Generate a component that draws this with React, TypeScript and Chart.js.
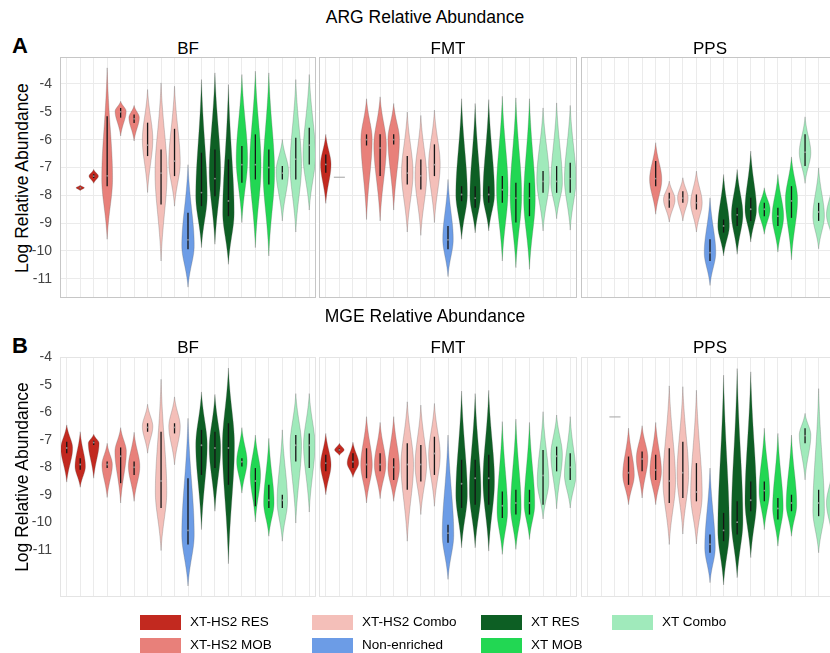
import React, { useEffect, useRef } from 'react';
import { Chart, registerables } from 'chart.js';
Chart.register(...registerables);

// ---------- DATA ----------
const CATEGORIES = [
  'XT-HS2 RES 1', 'XT-HS2 RES 2', 'XT-HS2 RES 3',
  'XT-HS2 MOB 1', 'XT-HS2 MOB 2', 'XT-HS2 MOB 3',
  'XT-HS2 Combo 1', 'XT-HS2 Combo 2', 'XT-HS2 Combo 3',
  'Non-enriched',
  'XT RES 1', 'XT RES 2', 'XT RES 3',
  'XT MOB 1', 'XT MOB 2', 'XT MOB 3',
  'XT Combo 1', 'XT Combo 2', 'XT Combo 3',
];
const GROUPS = ['XT-HS2 RES', 'XT-HS2 MOB', 'XT-HS2 Combo', 'Non-enriched', 'XT RES', 'XT MOB', 'XT Combo'];
const GROUP_COLORS = ['#C2291F', '#E8807A', '#F4BFB9', '#6C9CE6', '#0D5F24', '#22D753', '#A0EABB'];
const GROUP_OF_CATEGORY = [0, 0, 0, 1, 1, 1, 2, 2, 2, 3, 4, 4, 4, 5, 5, 5, 6, 6, 6];
const Y_TICKS = [-11, -10, -9, -8, -7, -6, -5, -4];
const PANELS = ['BF', 'FMT', 'PPS'];

// each violin: [min, q1, median, q3, max, densest value, relative peak density]
type V = number[] | null;

const ARG_BF: V[] = [
  null,
  [-7.83, -7.76, -7.73, -7.70, -7.64, -7.73, 0.65],
  [-7.57, -7.38, -7.31, -7.24, -7.07, -7.31, 0.74],
  [-9.58, -7.67, -7.3, -5.16, -3.42, -7.4, 0.85],
  [-5.87, -5.21, -5.0, -4.86, -4.62, -4.98, 0.87],
  [-6.05, -5.4, -5.25, -5.1, -4.77, -5.21, 0.82],
  [-7.9, -6.59, -6.2, -5.39, -4.2, -6.0, 0.82],
  [-10.36, -8.33, -7.2, -6.35, -3.96, -7.19, 0.95],
  [-8.39, -7.31, -6.77, -5.61, -4.08, -6.83, 0.9],
  [-11.3, -9.94, -9.6, -8.63, -6.9, -9.8, 0.98],
  [-9.88, -8.39, -7.9, -6.47, -3.84, -8.03, 0.9],
  [-9.76, -8.03, -7.4, -6.35, -3.6, -7.19, 0.9],
  [-10.48, -8.75, -8.2, -6.71, -4.02, -8.63, 0.9],
  [-8.98, -7.55, -6.9, -6.23, -3.66, -6.71, 0.9],
  [-9.88, -7.43, -6.9, -5.81, -3.54, -6.95, 0.9],
  [-10.18, -7.61, -7.0, -6.35, -3.6, -7.19, 0.9],
  [-8.92, -7.43, -7.2, -6.95, -5.99, -7.13, 0.98],
  [-9.32, -7.43, -6.7, -5.93, -3.84, -6.95, 0.9],
  [-8.53, -6.89, -6.2, -5.57, -3.66, -6.59, 0.98],
];
const ARG_FMT: V[] = [
  [-8.29, -7.19, -6.89, -6.53, -5.81, -6.89, 0.82],
  [-7.35, -7.35, -7.35, -7.35, -7.35, -7.35, 0.87],
  null,
  [-8.87, -6.21, -6.0, -5.81, -4.53, -5.99, 0.88],
  [-8.92, -7.31, -6.3, -5.81, -4.46, -6.2, 0.98],
  [-8.53, -6.17, -6.0, -5.81, -4.7, -5.99, 0.9],
  [-9.32, -7.61, -7.2, -6.59, -5.01, -7.19, 0.9],
  [-9.44, -7.79, -7.3, -6.71, -5.13, -7.31, 0.9],
  [-8.98, -7.31, -6.9, -6.17, -4.94, -6.89, 0.9],
  [-10.92, -9.94, -9.6, -9.1, -7.43, -9.58, 0.82],
  [-9.58, -8.21, -7.97, -7.67, -4.53, -7.97, 0.9],
  [-9.35, -8.45, -8.1, -7.67, -4.7, -8.03, 0.82],
  [-9.28, -8.27, -7.97, -7.67, -4.56, -7.97, 0.9],
  [-10.36, -8.27, -7.8, -7.31, -4.44, -7.79, 0.9],
  [-10.6, -8.98, -8.1, -7.55, -4.5, -8.03, 0.9],
  [-10.66, -8.75, -8.1, -7.55, -4.53, -8.15, 0.9],
  [-9.28, -7.91, -7.5, -7.13, -4.86, -7.43, 0.98],
  [-8.84, -7.91, -7.5, -6.95, -4.68, -7.55, 0.9],
  [-9.25, -7.91, -7.4, -6.83, -4.77, -7.43, 0.9],
];
const ARG_PPS: V[] = [
  null, null, null, null, null,
  [-8.68, -7.67, -7.4, -6.77, -6.11, -7.43, 0.95],
  [-8.96, -8.45, -8.15, -7.91, -7.49, -8.15, 0.9],
  [-8.92, -8.27, -8.1, -7.85, -7.37, -8.09, 0.82],
  [-9.32, -8.51, -8.27, -7.97, -7.13, -8.27, 0.9],
  [-11.24, -10.36, -10.06, -9.58, -8.09, -10.06, 0.9],
  [-10.18, -9.34, -9.1, -8.87, -7.25, -9.1, 0.9],
  [-10.12, -9.1, -8.7, -8.45, -7.07, -8.69, 0.9],
  [-9.68, -8.92, -8.5, -8.09, -6.41, -8.51, 0.9],
  [-9.4, -8.75, -8.5, -8.27, -7.73, -8.51, 0.9],
  [-10.04, -9.1, -8.75, -8.45, -7.25, -8.75, 0.9],
  [-10.32, -8.81, -8.2, -7.67, -6.62, -8.15, 0.95],
  [-7.57, -6.95, -6.45, -5.81, -5.18, -6.47, 0.9],
  [-9.92, -8.92, -8.6, -8.27, -7.01, -8.75, 0.9],
  [-9.6, -9.0, -8.7, -8.3, -7.6, -8.7, 0.9],
];
const MGE_BF: V[] = [
  [-8.54, -7.49, -7.3, -7.07, -6.46, -7.31, 0.93],
  [-8.73, -8.09, -7.9, -7.67, -6.71, -7.97, 0.82],
  [-8.4, -7.19, -7.1, -7.04, -6.8, -7.13, 0.85],
  [-9.1, -8.03, -7.9, -7.79, -7.13, -7.91, 0.82],
  [-9.3, -8.58, -7.6, -7.28, -6.56, -7.43, 0.9],
  [-9.24, -8.28, -8.0, -7.79, -6.73, -7.97, 0.9],
  [-7.49, -6.71, -6.55, -6.4, -5.71, -6.52, 0.82],
  [-11.03, -9.48, -8.5, -6.71, -4.8, -8.9, 0.9],
  [-7.91, -6.77, -6.55, -6.4, -5.44, -6.52, 0.9],
  [-12.32, -10.81, -10.3, -8.4, -6.22, -10.45, 0.98],
  [-10.27, -8.28, -7.2, -6.64, -5.26, -7.19, 0.9],
  [-9.6, -8.03, -7.3, -6.71, -5.35, -7.31, 0.9],
  [-11.51, -8.64, -7.3, -6.4, -4.39, -7.19, 0.95],
  [-8.94, -7.97, -7.8, -7.67, -6.56, -7.79, 0.82],
  [-9.99, -9.42, -8.5, -8.03, -6.83, -8.28, 0.82],
  [-10.51, -9.48, -9.2, -8.64, -6.95, -9.3, 0.82],
  [-10.69, -9.48, -9.2, -9.0, -6.64, -9.24, 0.82],
  [-10.03, -7.79, -7.2, -6.83, -5.32, -7.19, 0.9],
  [-9.63, -8.03, -7.2, -6.77, -5.32, -7.19, 0.9],
];
const MGE_FMT: V[] = [
  [-9.0, -8.15, -7.85, -7.55, -6.77, -7.91, 0.82],
  [-7.57, -7.42, -7.37, -7.32, -7.13, -7.37, 0.74],
  [-8.37, -8.03, -7.8, -7.49, -7.09, -7.85, 0.9],
  [-9.3, -8.4, -7.9, -7.31, -6.16, -7.91, 0.9],
  [-9.14, -8.15, -7.9, -7.49, -6.37, -7.91, 0.9],
  [-9.24, -8.46, -8.0, -7.67, -6.16, -8.03, 0.9],
  [-10.69, -8.82, -7.9, -7.13, -5.62, -7.91, 0.98],
  [-9.72, -8.52, -7.9, -7.19, -5.74, -7.91, 0.9],
  [-9.42, -8.28, -7.5, -6.89, -5.68, -7.55, 0.9],
  [-12.08, -10.75, -10.4, -10.09, -6.83, -10.45, 0.9],
  [-10.93, -9.48, -8.6, -7.73, -5.23, -9.0, 0.9],
  [-10.93, -9.36, -8.4, -7.73, -5.32, -8.88, 0.9],
  [-11.05, -9.36, -8.4, -7.55, -5.2, -8.52, 0.9],
  [-11.17, -9.85, -9.4, -8.88, -6.34, -9.6, 0.82],
  [-10.99, -9.72, -9.3, -8.82, -6.25, -9.48, 0.82],
  [-10.63, -9.72, -9.3, -8.82, -6.37, -9.36, 0.82],
  [-9.88, -9.36, -8.3, -7.37, -5.98, -8.52, 0.9],
  [-9.51, -8.15, -7.6, -7.25, -6.1, -7.55, 0.9],
  [-9.48, -8.46, -8.0, -7.49, -6.16, -8.28, 0.9],
];
const MGE_PPS: V[] = [
  null, null,
  [-6.17, -6.17, -6.17, -6.17, -6.17, -6.17, 0.87],
  [-9.36, -8.64, -8.2, -7.61, -6.58, -8.28, 0.9],
  [-9.12, -8.15, -7.7, -7.43, -6.49, -7.67, 0.9],
  [-9.36, -8.46, -8.1, -7.55, -6.37, -8.15, 0.9],
  [-10.81, -9.3, -8.5, -7.31, -5.04, -8.52, 0.98],
  [-10.43, -9.12, -8.2, -7.07, -5.07, -8.28, 0.9],
  [-10.79, -9.24, -8.9, -7.85, -5.2, -9.0, 0.9],
  [-12.2, -11.11, -10.8, -10.45, -8.03, -10.93, 0.82],
  [-12.28, -10.69, -10.3, -9.66, -4.65, -10.33, 0.9],
  [-12.02, -10.45, -10.0, -9.24, -4.41, -9.97, 0.9],
  [-11.29, -9.6, -9.2, -8.52, -4.53, -9.24, 0.9],
  [-10.27, -9.24, -8.85, -8.52, -6.58, -8.88, 0.82],
  [-10.87, -9.9, -9.5, -9.12, -6.77, -9.48, 0.82],
  [-10.51, -9.6, -9.3, -9.0, -6.83, -9.36, 0.82],
  [-8.46, -7.13, -6.85, -6.58, -6.04, -6.83, 0.9],
  [-11.11, -9.78, -9.3, -8.82, -5.14, -9.6, 0.9],
  [-10.6, -9.6, -9.3, -8.9, -8.1, -9.3, 0.9],
];

// ---------- LAYOUT ----------
const FONT = '"Liberation Sans", Arial, Helvetica, sans-serif';
const PAD = 30;
const ROWS = [
  { title: 'ARG Relative Abundance', letter: 'A', titleY: 17, letterY: 46, panelTitleY: 49, plotTop: 57, plotBottom: 298, min: -11.69, max: -3.03, hGrid: true, border: '#C6C6C6', data: [ARG_BF, ARG_FMT, ARG_PPS] },
  { title: 'MGE Relative Abundance', letter: 'B', titleY: 316, letterY: 346, panelTitleY: 348, plotTop: 357, plotBottom: 597, min: -12.72, max: -3.99, hGrid: false, border: '#E4E4E4', data: [MGE_BF, MGE_FMT, MGE_PPS] },
];
const COLS = [
  { left: 60, right: 316 },
  { left: 319, right: 577 },
  { left: 581, right: 839 },
];

function makeViolinPlugin(stats: V[], border: string) {
  return {
    id: 'violins',
    afterDatasetsDraw(chart: any) {
      const { ctx, chartArea } = chart;
      const x = chart.scales.x;
      const y = chart.scales.y;
      const step = Math.abs(x.getPixelForValue(1) - x.getPixelForValue(0));
      const halfMax = 0.47 * step;
      ctx.save();
      ctx.beginPath();
      ctx.rect(chartArea.left, chartArea.top, chartArea.right - chartArea.left, chartArea.bottom - chartArea.top);
      ctx.clip();
      stats.forEach((s, i) => {
        if (!s) return;
        const [mn, q1, med, q3, mx, pk, dens] = s;
        const cx = x.getPixelForValue(i);
        const W = dens * halfMax;
        const color = GROUP_COLORS[GROUP_OF_CATEGORY[i]];
        if (mx - mn < 1e-9) {
          ctx.strokeStyle = '#A3A3A3';
          ctx.lineWidth = 1;
          ctx.beginPath();
          ctx.moveTo(cx - W, y.getPixelForValue(mn));
          ctx.lineTo(cx + W, y.getPixelForValue(mn));
          ctx.stroke();
          return;
        }
        const N = 100;
        const pts: number[][] = [];
        for (let k = 0; k <= N; k++) {
          const v = mn + ((mx - mn) * k) / N;
          const u = v >= pk ? (v - pk) / Math.max(mx - pk, 1e-6) : (pk - v) / Math.max(pk - mn, 1e-6);
          const w = W * Math.exp(-0.5 * Math.pow(u * 2.3, 2));
          pts.push([y.getPixelForValue(v), w * (1 - Math.pow(u, 8))]);
        }
        ctx.beginPath();
        pts.forEach(([py, w], k) => (k === 0 ? ctx.moveTo(cx + w, py) : ctx.lineTo(cx + w, py)));
        for (let k = N; k >= 0; k--) ctx.lineTo(cx - pts[k][1], pts[k][0]);
        ctx.closePath();
        ctx.fillStyle = color;
        ctx.fill();
        ctx.strokeStyle = 'rgba(90,90,90,0.4)';
        ctx.lineWidth = 0.7;
        ctx.stroke();
        // inner box (IQR)
        ctx.strokeStyle = '#151515';
        ctx.lineWidth = 1.3;
        ctx.beginPath();
        ctx.moveTo(cx, y.getPixelForValue(q1));
        ctx.lineTo(cx, y.getPixelForValue(q3));
        ctx.stroke();
        ctx.fillStyle = 'rgba(170,170,170,0.8)';
        ctx.beginPath();
        ctx.arc(cx, y.getPixelForValue(med), 0.9, 0, Math.PI * 2);
        ctx.fill();
      });
      ctx.restore();
      ctx.save();
      ctx.strokeStyle = border;
      ctx.lineWidth = 1;
      ctx.strokeRect(chartArea.left + 0.5, chartArea.top + 0.5, chartArea.right - chartArea.left - 1, chartArea.bottom - chartArea.top - 1);
      ctx.restore();
    },
  };
}

function Panel({ stats, row, col, showY }: { stats: V[]; row: any; col: any; showY: boolean }) {
  const ref = useRef<HTMLCanvasElement | null>(null);
  const canvasLeft = showY ? 0 : col.left;
  const width = col.right - canvasLeft;
  const height = row.plotBottom - row.plotTop + 2 * PAD;
  const axisWidth = col.left - canvasLeft;
  useEffect(() => {
    if (!ref.current) return;
    const chart = new Chart(ref.current, {
      type: 'bar',
      data: {
        labels: CATEGORIES,
        datasets: GROUPS.map((g, gi) => ({
          label: g,
          data: stats.map((s, i) => (s && GROUP_OF_CATEGORY[i] === gi ? [s[0], s[4]] : null)),
          backgroundColor: 'rgba(0,0,0,0)',
          borderWidth: 0,
          grouped: false,
        })) as any,
      },
      options: {
        animation: false,
        responsive: false,
        maintainAspectRatio: false,
        events: [],
        layout: { padding: { top: PAD, bottom: PAD, left: 0, right: 0 } },
        plugins: { legend: { display: false }, tooltip: { enabled: false }, title: { display: false } },
        scales: {
          x: {
            type: 'category',
            offset: true,
            grid: { offset: false, color: '#EBEBEB', drawTicks: false, lineWidth: 1 },
            border: { display: false },
            ticks: { display: false },
            afterFit: (s: any) => { s.height = 0; },
          },
          y: {
            type: 'linear',
            min: row.min,
            max: row.max,
            afterBuildTicks: (s: any) => { s.ticks = Y_TICKS.map((v) => ({ value: v })); },
            grid: { display: row.hGrid, color: '#EBEBEB', drawTicks: false },
            border: { display: false },
            ticks: {
              display: showY,
              color: '#444444',
              padding: 8,
              font: { family: FONT, size: 14 },
              callback: (v: any) => String(v),
            },
            afterFit: (s: any) => { s.width = axisWidth; },
          },
        },
      } as any,
      plugins: [makeViolinPlugin(stats, row.border)],
    });
    return () => chart.destroy();
  }, []);
  return (
    <canvas
      ref={ref}
      width={width}
      height={height}
      style={{ position: 'absolute', left: canvasLeft, top: row.plotTop - PAD, width, height }}
    />
  );
}

function Text({ x, y, children, size, bold, align = 'center', rotate = false }: any) {
  const w = 400;
  const h = 24;
  const left = align === 'center' ? x - w / 2 : x;
  return (
    <div
      style={{
        position: 'absolute',
        left,
        top: y - h / 2,
        width: w,
        height: h,
        lineHeight: h + 'px',
        fontSize: size,
        fontWeight: bold ? 'bold' : 'normal',
        textAlign: align,
        whiteSpace: 'nowrap',
        color: '#000',
        transform: rotate ? 'rotate(-90deg)' : undefined,
      }}
    >
      {children}
    </div>
  );
}

const LEGEND_LAYOUT = [
  { g: 0, x: 140, y: 622 },
  { g: 1, x: 140, y: 645 },
  { g: 2, x: 312, y: 622 },
  { g: 3, x: 312, y: 645 },
  { g: 4, x: 481, y: 622 },
  { g: 5, x: 481, y: 645 },
  { g: 6, x: 612, y: 622 },
];

export default function App() {
  useEffect(() => {
    document.body.style.margin = '0';
  }, []);
  return (
    <div style={{ position: 'absolute', left: 0, top: 0, width: 830, height: 653, overflow: 'hidden', background: '#fff', fontFamily: FONT }}>
      {ROWS.map((row, ri) => (
        <React.Fragment key={ri}>
          <Text x={425} y={row.titleY} size={17.5}>{row.title}</Text>
          <Text x={12} y={row.letterY} size={22} bold align="left">{row.letter}</Text>
          <Text x={22} y={(row.plotTop + row.plotBottom) / 2} size={17.5} rotate>Log Relative Abundance</Text>
          {COLS.map((col, ci) => (
            <React.Fragment key={ci}>
              <Text x={(col.left + col.right) / 2} y={row.panelTitleY} size={17}>{PANELS[ci]}</Text>
              <Panel stats={row.data[ci]} row={row} col={col} showY={ci === 0} />
            </React.Fragment>
          ))}
        </React.Fragment>
      ))}
      {LEGEND_LAYOUT.map((it) => (
        <React.Fragment key={it.g}>
          <div style={{ position: 'absolute', left: it.x, top: it.y - 7, width: 41, height: 15, background: GROUP_COLORS[it.g] }} />
          <div style={{ position: 'absolute', left: it.x + 50, top: it.y - 10, height: 20, lineHeight: '20px', fontSize: 13.5, whiteSpace: 'nowrap', color: '#000' }}>{GROUPS[it.g]}</div>
        </React.Fragment>
      ))}
    </div>
  );
}
